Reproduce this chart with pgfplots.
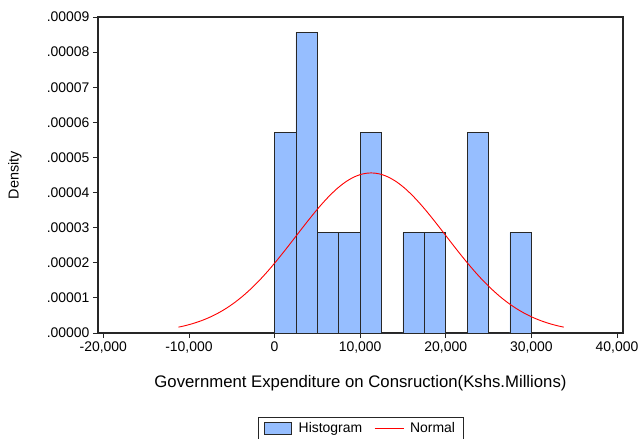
\documentclass[border=0pt]{standalone}
\usepackage{fontspec}
\setmainfont{Liberation Sans}
\usepackage{pgfplots}
\pgfplotsset{compat=1.18}
\definecolor{histblue}{RGB}{150,190,255}
\definecolor{edgegray}{RGB}{40,40,40}
\begin{document}
\begin{tikzpicture}
\path[use as bounding box] (-98bp,-106bp) rectangle (541bp,333bp);
\begin{axis}[
  at={(0,0)}, anchor=south west,
  scale only axis, width=525bp, height=316bp,
  xmin=-20620, xmax=40700, ymin=0, ymax=0.00009,
  axis line style={line width=1.2bp, black!85},
  tick align=outside, xtick pos=bottom, ytick pos=left,
  major tick length=5bp,
  tick style={line width=0.8bp, black!85},
  xtick={-20000,-10000,0,10000,20000,30000,40000},
  xticklabels={{-20,000},{-10,000},{0},{10,000},{20,000},{30,000},{40,000}},
  ytick={0,0.00001,0.00002,0.00003,0.00004,0.00005,0.00006,0.00007,0.00008,0.00009},
  yticklabels={.00000,.00001,.00002,.00003,.00004,.00005,.00006,.00007,.00008,.00009},
  scaled x ticks=false, scaled y ticks=false,
  ticklabel style={font=\fontsize{14}{16}\selectfont},
  xlabel={Government Expenditure on Consruction(Kshs.Millions)},
  xlabel style={at={(axis description cs:0.5,-0.1582)}, anchor=center, font=\fontsize{16.8}{19}\selectfont},
  ylabel={Density},
  ylabel style={at={(axis description cs:-0.1581,0.5)}, anchor=center, font=\fontsize{14.5}{17}\selectfont},
  legend columns=2,
  legend style={at={(0.5,-0.2658)}, anchor=north, draw=black!85, line width=0.8bp,
    font=\fontsize{14}{16}\selectfont, inner xsep=6bp, inner ysep=3bp,
    /tikz/every even column/.append style={column sep=10bp}},
]
\addplot[ybar interval, fill=histblue, draw=edgegray, line width=0.8bp,
  legend image code/.code={\draw[fill=histblue, draw=edgegray, line width=0.8bp] (0bp,-6bp) rectangle (27bp,6bp); \path (32bp,0bp);}]
  coordinates {
  (0,0.00005714) (2500,0.00008571) (5000,0.00002857) (7500,0.00002857)
  (10000,0.00005714) (12500,0) (15000,0.00002857) (17500,0.00002857)
  (20000,0) (22500,0.00005714) (25000,0) (27500,0.00002857) (30000,0.00002857)
  };
\addlegendentry{Histogram}
\addplot[red, line width=0.9bp, smooth,
  legend image code/.code={\draw[red, line width=0.9bp] (0bp,0bp) -- (29bp,0bp); \path (33bp,0bp);}]
  coordinates {
  (-11220,0.00000167) (-10720,0.00000193) (-9720,0.00000256) (-8720,0.00000335)
  (-7720,0.00000432) (-6720,0.00000550) (-5720,0.00000691) (-4720,0.00000857)
  (-3720,0.00001049) (-2720,0.00001268) (-1720,0.00001512) (-720,0.00001780)
  (280,0.00002069) (1280,0.00002373) (2280,0.00002687) (3280,0.00003002)
  (4280,0.00003311) (5280,0.00003605) (6280,0.00003873) (7280,0.00004108)
  (8280,0.00004300) (9280,0.00004442) (10280,0.00004530) (11280,0.00004560)
  (12280,0.00004530) (13280,0.00004442) (14280,0.00004300) (15280,0.00004108)
  (16280,0.00003873) (17280,0.00003605) (18280,0.00003311) (19280,0.00003002)
  (20280,0.00002687) (21280,0.00002373) (22280,0.00002069) (23280,0.00001780)
  (24280,0.00001512) (25280,0.00001268) (26280,0.00001049) (27280,0.00000857)
  (28280,0.00000691) (29280,0.00000550) (30280,0.00000432) (31280,0.00000335)
  (32280,0.00000256) (33280,0.00000193) (33780,0.00000167)
  };
\addlegendentry{Normal}
\end{axis}
\end{tikzpicture}
\end{document}
